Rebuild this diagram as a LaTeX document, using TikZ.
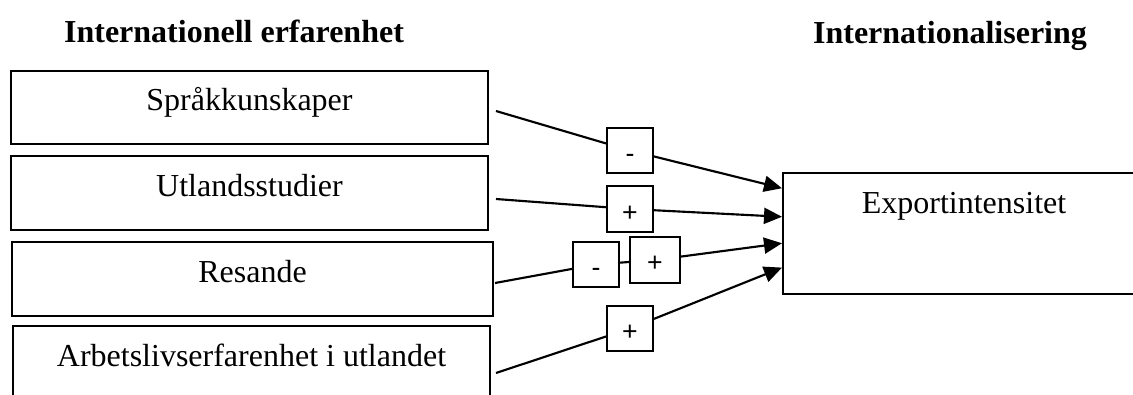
\documentclass[tikz,border=0pt]{standalone}
\usepackage{fontspec}
\setmainfont{Liberation Serif}
\newfontfamily\signfont{Liberation Sans}
\usetikzlibrary{arrows.meta, calc}

\begin{document}
\begin{tikzpicture}[x=0.375pt, y=-0.375pt,
    factor/.style={draw, line width=0.75pt, fill=white, inner sep=0pt,
        font=\fontsize{12}{14}\selectfont, text height=15pt, text depth=12.6pt},
    sign/.style={draw, line width=0.75pt, fill=white, inner sep=0pt,
        minimum width=17.25pt, text height=13pt, text depth=3.9pt,
        font=\signfont\fontsize{10}{11}\selectfont},
    link/.style={line width=0.8pt, -{Triangle[length=6.75pt, width=6pt]}},
    heading/.style={anchor=base, font=\bfseries\fontsize{12}{14}\selectfont}]
    \clip (0,0) rectangle (1133,394);

    % Headings
    \node[heading] (erfarenhet) at (234,42) {Internationell erfarenhet};
    \node[heading] (internat) at (950,43) {Internationalisering};

    % Draw nodes
    \node[factor, minimum width=178.9pt] (sprak) at (249.5,107.5) {Språkkunskaper};
    \node[factor, minimum width=178.9pt] (studier) at (249.5,193) {Utlandsstudier};
    \node[factor, minimum width=180.4pt] (resande) at (252.5,279) {Resande};
    \node[factor, minimum width=178.9pt] (arbete) at (251.5,363) {Arbetslivserfarenhet i utlandet};
    \node[factor, minimum width=135.75pt, text height=15.2pt, text depth=30.2pt]
        (export) at (964,233.5) {Exportintensitet};

    % Signs
    \node[sign] (s1) at (630,150.5) {-};
    \node[sign] (s2) at (630,209) {+};
    \node[sign] (s3a) at (596,264.5) {-};
    \node[sign, minimum width=18.75pt, text depth=4.25pt] (s3b) at (655,260) {+};
    \node[sign] (s4) at (630,328.5) {+};

    % Draw connections
    \coordinate (a1) at (496,111);
    \coordinate (a2) at (496,199);
    \coordinate (a3) at (495,283);
    \coordinate (a4) at (496,373);
    \coordinate (e1) at ($(export.north west)!0.132!(export.south west)$);
    \coordinate (e2) at ($(export.north west)!0.364!(export.south west)$);
    \coordinate (e3) at ($(export.north west)!0.579!(export.south west)$);
    \coordinate (e4) at ($(export.north west)!0.777!(export.south west)$);
    \draw[link] (a1) -- (s1) -- (e1);
    \draw[link] (a2) -- (s2) -- (e2);
    \draw[link] (a3) -- (s3a) -- (s3b) -- (e3);
    \draw[link] (a4) -- (s4) -- (e4);
\end{tikzpicture}
\end{document}
